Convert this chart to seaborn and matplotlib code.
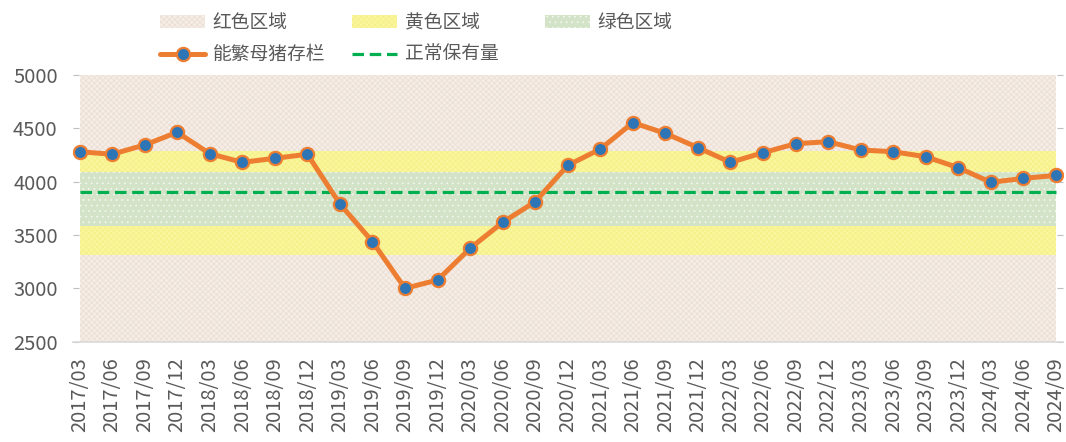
import matplotlib
matplotlib.use("Agg")
import matplotlib.pyplot as plt
from matplotlib.patches import Patch
from matplotlib.lines import Line2D
import seaborn as sns
import pandas as pd
import numpy as np

# ---- data ----
periods = ["2017/03", "2017/06", "2017/09", "2017/12",
           "2018/03", "2018/06", "2018/09", "2018/12",
           "2019/03", "2019/06", "2019/09", "2019/12",
           "2020/03", "2020/06", "2020/09", "2020/12",
           "2021/03", "2021/06", "2021/09", "2021/12",
           "2022/03", "2022/06", "2022/09", "2022/12",
           "2023/03", "2023/06", "2023/09", "2023/12",
           "2024/03", "2024/06", "2024/09"]
sows = [4281, 4257, 4344, 4463,
        4263, 4181, 4219, 4257,
        3791, 3438, 3000, 3078,
        3375, 3619, 3812, 4153,
        4306, 4553, 4453, 4319,
        4181, 4272, 4356, 4375,
        4297, 4281, 4234, 4131,
        3994, 4031, 4059]
normal_level = 3900
axis_min, axis_max = 2500, 5000
red_low_top = 3315      # 85% of normal
green_bottom = 3588     # 92%
green_top = 4095        # 105%
red_high_bottom = 4290  # 110%
y_ticks = [2500, 3000, 3500, 4000, 4500, 5000]

# ---- figure ----
sns.set_theme(style="white")
plt.rcParams['font.family'] = ['Noto Sans CJK SC', 'DejaVu Sans']
plt.rcParams['hatch.linewidth'] = 0.5

fig = plt.figure(figsize=(10.66, 4.42), dpi=100)
ax = fig.add_axes([73 / 1066, 1 - 341.7 / 442, 989.5 / 1066, (341.7 - 75) / 442])

n = len(periods)
xs = np.arange(n)
ones = np.ones(n)

red_face, red_hatch = "#F5EDE6", "#EADDD2"
yel_face, yel_hatch = "#FAF69C", "#F4EF86"
grn_face, grn_hatch = "#D3E3C8", "#F4F8EF"

def band(lo, hi, face, hatch_col, hatch):
    ax.fill_between(xs, lo * ones, hi * ones, facecolor=face, edgecolor=hatch_col,
                    hatch=hatch, linewidth=0, zorder=0)

band(axis_min, red_low_top, red_face, red_hatch, "xxxxxx")
band(red_low_top, green_bottom, yel_face, yel_hatch, "xxxxxx")
band(green_bottom, green_top, grn_face, grn_hatch, "...")
band(green_top, red_high_bottom, yel_face, yel_hatch, "xxxxxx")
band(red_high_bottom, axis_max, red_face, red_hatch, "xxxxxx")

# normal holding line
ax.plot(xs, normal_level * ones, color="#00B050", lw=2.3, ls=(0, (3.6, 1.8)), zorder=2)

df = pd.DataFrame({"period": xs, "sows": sows})
sns.lineplot(data=df, x="period", y="sows", ax=ax, color="#ED7D31", lw=3.6,
             marker="o", markersize=9.5, markerfacecolor="#2E75B6",
             markeredgecolor="#ED7D31", markeredgewidth=1.6, zorder=3)

ax.set_xlim(-0.2, n - 1 + 0.2)
ax.set_ylim(axis_min, axis_max)
ax.set_yticks(y_ticks)
ax.set_xticks(xs)
ax.set_xticklabels(periods, rotation=90)
ax.set_xlabel("")
ax.set_ylabel("")

text_col = "#595959"
ax.tick_params(axis="y", which="both", direction="in", length=4.3, width=0.8,
               color="#BFBFBF", left=True, right=True, labelsize=14.5,
               labelcolor=text_col, pad=11)
ax.tick_params(axis="x", length=0, labelsize=14.5, labelcolor=text_col, pad=11)
for s in ["top", "right", "left"]:
    ax.spines[s].set_visible(False)
ax.spines["bottom"].set_color("#D9D9D9")
ax.spines["bottom"].set_linewidth(1.2)

# ---- legends (three equally spaced columns) ----
h_red = Patch(facecolor=red_face, edgecolor=red_hatch, hatch="xxxxxx", linewidth=0)
h_yel = Patch(facecolor=yel_face, edgecolor=yel_hatch, hatch="xxxxxx", linewidth=0)
h_grn = Patch(facecolor=grn_face, edgecolor=grn_hatch, hatch="...", linewidth=0)
h_line = Line2D([], [], color="#ED7D31", lw=3.6, marker="o", markersize=9.5,
                markerfacecolor="#2E75B6", markeredgecolor="#ED7D31", markeredgewidth=1.6)
h_dash = Line2D([], [], color="#00B050", lw=2.3, ls=(0, (3.6, 1.8)))

cols = [([h_red, h_line], ["红色区域", "能繁母猪存栏"], 160),
        ([h_yel, h_dash], ["黄色区域", "正常保有量"], 352),
        ([h_grn], ["绿色区域"], 545)]
for handles, labels, xpx in cols:
    leg = fig.legend(handles, labels, loc="upper left",
                     bbox_to_anchor=(xpx / 1066, 1 - 12 / 442),
                     frameon=False, fontsize=13.5, handlelength=2.4,
                     handleheight=0.75, handletextpad=0.4, labelspacing=0.6,
                     borderpad=0, borderaxespad=0)
    for t in leg.get_texts():
        t.set_color(text_col)

fig.savefig("out.png", dpi=100)
